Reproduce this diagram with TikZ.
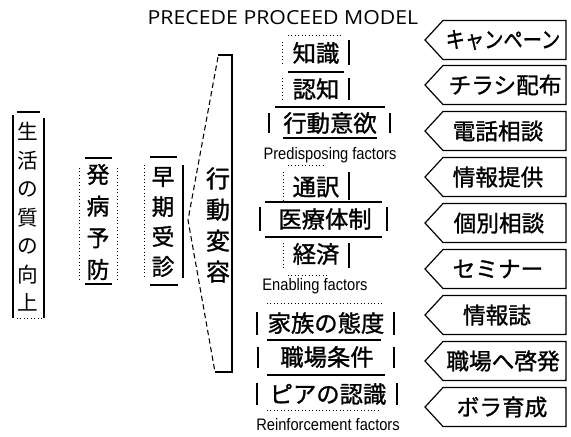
\documentclass[tikz,border=0pt]{standalone}
\usepackage{graphicx}
\usepackage{fontspec}
\setmainfont{Liberation Sans}
\newfontfamily\jp{Noto Sans CJK JP}
\newfontfamily\jpb[FakeBold=1.2]{Noto Sans CJK JP}
\newfontfamily\ttl{Open Sans}
\begin{document}
\begin{tikzpicture}[x=0.75pt,y=-0.75pt,
  sl/.style={line width=0.9pt},
  dl/.style={line width=0.6pt, dotted},
  dsh/.style={line width=0.8pt, dash pattern=on 4pt off 2.5pt},
  vt/.style={align=center, inner sep=0pt},
  mid/.style={inner sep=0pt, font=\jpb\fontsize{17.5}{17.5}\selectfont},
  fac/.style={inner sep=0pt, font=\fontsize{12.5}{12.5}\selectfont},
  arr/.style={inner sep=0pt, font=\jpb\fontsize{17}{17}\selectfont}]
\useasboundingbox (0,0) rectangle (571,436);

% title
\node[inner sep=0pt, font=\ttl\fontsize{14.5}{14.5}\selectfont] (title) at (283,18) {\scalebox{1.1}[1]{PRECEDE PROCEED MODEL}};

% left column
\node[vt, font=\jp\fontsize{15.5}{21.4}\selectfont] (qol) at (28,217) {生\\活\\の\\質\\の\\向\\上};
\draw[sl] (17,112) -- (40,112);
\draw[sl] (13,115) -- (13,318);
\draw[sl] (44,118) -- (44,318);
\draw[dl] (17,318) -- (42,318);

\node[vt, font=\jpb\fontsize{17}{23.8}\selectfont] (prev) at (98,222) {発\\病\\予\\防};
\draw[sl] (85,158) -- (112,158);
\draw[dl] (79,168) -- (79,280);
\draw[dl] (117,168) -- (117,280);
\draw[sl] (85,284) -- (112,284);

\node[vt, font=\jpb\fontsize{17}{22.5}\selectfont] (early) at (163,222) {早\\期\\受\\診};
\draw[sl] (150,157) -- (177,157);
\draw[dl] (144,165) -- (144,278);
\draw[sl] (183,165) -- (183,278);
\draw[sl] (150,285) -- (178,285);

\node[vt, font=\jpb\fontsize{18}{23.3}\selectfont] (behav) at (218,225) {行\\動\\変\\容};
\draw[dsh] (218,57) -- (188,220) -- (215,372);
\draw[sl] (218,55) -- (232,55) -- (232,372) -- (215,372);

% middle column
\node[mid] (m1) at (316,53) {知識};
\draw[dl] (288,35) -- (342,35);
\draw[dl] (282,42) -- (282,64);
\draw[sl] (349,40) -- (349,65);
\draw[sl] (288,72) -- (344,72);

\node[mid] (m2) at (316,89) {認知};
\draw[dl] (282,78) -- (282,100);
\draw[sl] (349,78) -- (349,100);
\draw[sl] (275,107) -- (385,107);

\node[mid] (m3) at (330,123) {行動意欲};
\draw[sl] (269,113) -- (269,133);
\draw[sl] (390,113) -- (390,133);
\draw[sl] (283,138) -- (377,138);

\node[fac] (f1) at (330,155) {\scalebox{0.88}[1]{Predisposing factors}};

\node[mid] (m4) at (316,187) {通訳};
\draw[dl] (288,165) -- (325,165);
\draw[dl] (283,172) -- (283,200);
\draw[sl] (349,172) -- (349,200);
\draw[sl] (265,202) -- (382,202);

\node[mid] (m5) at (325,219) {医療体制};
\draw[sl] (260,207) -- (260,231);
\draw[sl] (387,207) -- (387,231);
\draw[sl] (265,237) -- (382,237);

\node[mid] (m6) at (316,254) {経済};
\draw[dl] (283,243) -- (283,268);
\draw[sl] (349,243) -- (349,268);
\draw[dl] (288,275) -- (327,275);

\node[fac] (f2) at (315,286) {\scalebox{0.88}[1]{Enabling factors}};

\node[mid] (m7) at (326,323) {家族の態度};
\draw[dl] (267,303) -- (383,303);
\draw[sl] (257,312) -- (257,335);
\draw[sl] (394,312) -- (394,335);
\draw[sl] (267,340) -- (381,340);

\node[mid] (m8) at (327,357) {職場条件};
\draw[sl] (258,347) -- (258,368);
\draw[sl] (394,347) -- (394,368);
\draw[sl] (267,375) -- (385,375);

\node[mid] (m9) at (328,394) {ピアの認識};
\draw[sl] (257,383) -- (257,405);
\draw[sl] (397,383) -- (397,405);
\draw[dl] (267,410) -- (381,410);

\node[fac] (f3) at (328,425) {\scalebox{0.88}[1]{Reinforcement factors}};

% right column (arrows)
\foreach \i/\yy/\xx/\t in {
  0/40/503/{\scalebox{0.85}[1]{キャンペーン}},
  1/85/505/{チラシ配布},
  2/131/498/{電話相談},
  3/177/498/{情報提供},
  4/223/499/{個別相談},
  5/269/498/{セミナー},
  6/315/497/{情報誌},
  7/361/503/{職場へ啓発},
  8/407/502/{ボラ育成}} {
  \draw[sl, line join=miter] (443,\yy-19.5) -- (566,\yy-19.5) -- (566,\yy+19.5) -- (443,\yy+19.5) -- (425,\yy) -- cycle;
  \node[arr] (a\i) at (\xx,\yy) {\t};
}
\end{tikzpicture}
\end{document}
